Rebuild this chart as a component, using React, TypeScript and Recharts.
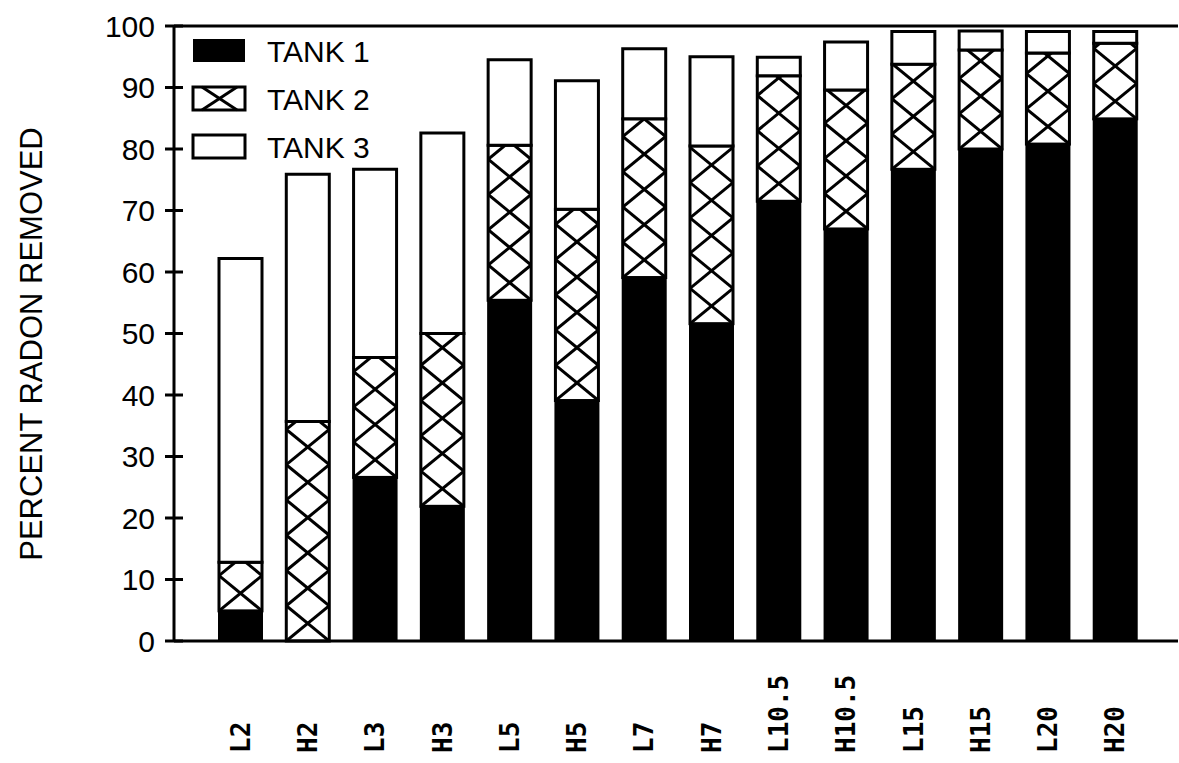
import React from 'react';
import { BarChart, Bar, XAxis, YAxis, ReferenceLine, Legend, Label } from 'recharts';

const categories = ['L2', 'H2', 'L3', 'H3', 'L5', 'H5', 'L7', 'H7', 'L10.5', 'H10.5', 'L15', 'H15', 'L20', 'H20'];
const tank1 = [4.9, 0, 26.6, 21.9, 55.4, 39.1, 59.1, 51.6, 71.5, 67.0, 76.7, 80.0, 80.8, 84.9];
const tank2 = [7.9, 35.7, 19.5, 28.1, 25.2, 31.1, 25.8, 28.9, 20.4, 22.6, 17.1, 16.1, 14.8, 12.3];
const tank3 = [49.4, 40.2, 30.6, 32.6, 13.9, 20.9, 11.4, 14.5, 3.0, 7.8, 5.3, 3.1, 3.5, 1.9];
const yTicks = [0, 10, 20, 30, 40, 50, 60, 70, 80, 90, 100];
const seriesNames = ['TANK 1', 'TANK 2', 'TANK 3'];
const yAxisTitle = 'PERCENT RADON REMOVED';

const data = categories.map((name, i) => ({
  name,
  tank1: tank1[i],
  tank2: tank2[i],
  tank3: tank3[i],
}));

const SANS = '"Liberation Sans", Arial, sans-serif';
const MONO = '"DejaVu Sans Mono", "Liberation Mono", monospace';

const HatchBar = (props: any) => {
  const { x, y, width, height, index } = props;
  if (!width || !height) return null;
  const h = Math.abs(height);
  const top = height < 0 ? y + height : y;
  const bottom = top + h;
  const p = width * 0.82;
  const id = `clip-tank2-${index}`;
  const lines: any[] = [];
  const n = Math.ceil(h / p) + 1;
  for (let k = 0; k <= n; k++) {
    const yk = bottom - k * p;
    lines.push(<line key={'a' + k} x1={x} y1={yk} x2={x + width} y2={yk - p} />);
    lines.push(<line key={'b' + k} x1={x} y1={yk - p} x2={x + width} y2={yk} />);
  }
  return (
    <g>
      <defs>
        <clipPath id={id}>
          <rect x={x} y={top} width={width} height={h} />
        </clipPath>
      </defs>
      <rect x={x} y={top} width={width} height={h} fill="#fff" />
      <g clipPath={`url(#${id})`} stroke="#000" strokeWidth={3}>
        {lines}
      </g>
      <rect x={x} y={top} width={width} height={h} fill="none" stroke="#000" strokeWidth={3} />
    </g>
  );
};

const YTick = (props: any) => {
  const { x, y, payload } = props;
  return (
    <g>
      <line x1={x - 9} x2={x + 9} y1={y} y2={y} stroke="#000" strokeWidth={3} />
      <text x={x - 19} y={y} textAnchor="end" dominantBaseline="central" fontFamily={SANS} fontSize={30} fill="#000">
        {payload.value}
      </text>
    </g>
  );
};

const XTick = (props: any) => {
  const { x, y, payload } = props;
  const ty = y + 112;
  return (
    <text
      x={x}
      y={ty}
      transform={`rotate(-90, ${x}, ${ty})`}
      textAnchor="start"
      dominantBaseline="central"
      fontFamily={MONO}
      fontWeight="bold"
      fontSize={26}
      fill="#000"
    >
      {payload.value}
    </text>
  );
};

const renderLegend = (props: any) => {
  const payload = props.payload || [];
  return (
    <svg width={300} height={140}>
      {payload.map((entry: any, i: number) => {
        const ry = 3 + i * 48;
        const key = entry.dataKey;
        return (
          <g key={key}>
            {key === 'tank1' && <rect x={3} y={ry} width={52} height={23} fill="#000" />}
            {key === 'tank2' && (
              <g>
                <rect x={3} y={ry} width={52} height={23} fill="#fff" stroke="#000" strokeWidth={3} />
                <line x1={12} y1={ry} x2={47} y2={ry + 23} stroke="#000" strokeWidth={3} />
                <line x1={12} y1={ry + 23} x2={47} y2={ry} stroke="#000" strokeWidth={3} />
              </g>
            )}
            {key === 'tank3' && <rect x={3} y={ry} width={52} height={23} fill="#fff" stroke="#000" strokeWidth={3} />}
            <text x={77} y={ry + 12} dominantBaseline="central" fontFamily={SANS} fontSize={30} fill="#000">
              {entry.value}
            </text>
          </g>
        );
      })}
    </svg>
  );
};

const YTitle = (props: any) => (
  <text
    x={31}
    y={344}
    transform="rotate(-90, 31, 344)"
    textAnchor="middle"
    dominantBaseline="central"
    fontFamily={SANS}
    fontSize={31}
    fill="#000"
  >
    {yAxisTitle}
  </text>
);

export default function App() {
  return (
    <div style={{ position: 'absolute', left: 0, top: 0, width: 1179, height: 763, background: '#fff' }}>
      <BarChart
        width={1179}
        height={763}
        data={data}
        margin={{ top: 26, right: 1, bottom: 10, left: 0 }}
        barSize={43}
      >
        <XAxis
          dataKey="name"
          height={112}
          tickLine={false}
          tickSize={0}
          tickMargin={0}
          axisLine={{ stroke: '#000', strokeWidth: 3 }}
          tick={<XTick />}
          interval={0}
          padding={{ left: 33, right: 29 }}
        />
        <YAxis
          width={174}
          domain={[0, 100]}
          ticks={yTicks}
          tickLine={false}
          tickSize={0}
          tickMargin={0}
          axisLine={{ stroke: '#000', strokeWidth: 3 }}
          tick={<YTick />}
          interval={0}
        >
          <Label content={<YTitle />} />
        </YAxis>
        <ReferenceLine y={100} stroke="#000" strokeWidth={3} />
        <Legend
          layout="horizontal"
          verticalAlign="middle"
          align="center"
          content={renderLegend}
          wrapperStyle={{ position: 'absolute', left: 190, top: 36, width: 300, height: 140 }}
        />
        <Bar dataKey="tank1" name={seriesNames[0]} stackId="a" fill="#000" stroke="#000" strokeWidth={2} isAnimationActive={false} />
        <Bar dataKey="tank2" name={seriesNames[1]} stackId="a" fill="#fff" shape={<HatchBar />} isAnimationActive={false} />
        <Bar dataKey="tank3" name={seriesNames[2]} stackId="a" fill="#fff" stroke="#000" strokeWidth={3} isAnimationActive={false} />
      </BarChart>
    </div>
  );
}
